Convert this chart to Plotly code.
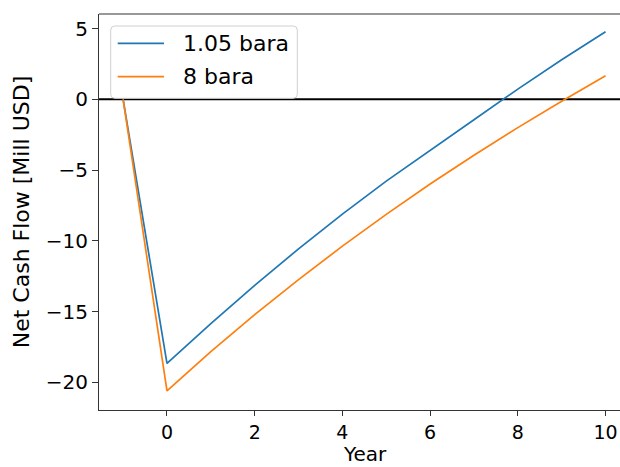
import plotly.graph_objects as go

# Cumulative net cash flow per project year, million USD
years = [-1, 0, 1, 2, 3, 4, 5, 6, 7, 8, 9, 10]
ncf_1_05_bara = [0.0, -18.66, -15.85, -13.15, -10.57, -8.11, -5.78, -3.58, -1.44, 0.72, 2.80, 4.78]
ncf_8_bara = [0.0, -20.60, -17.84, -15.22, -12.74, -10.38, -8.13, -5.99, -3.95, -2.00, -0.13, 1.67]
series_names = ["1.05 bara", "8 bara"]
series_colors = ["#1f77b4", "#ff7f0e"]

x_tick_vals = [0, 2, 4, 6, 8, 10]
y_tick_vals = [-20, -15, -10, -5, 0, 5]
y_tick_text = ["\u221220", "\u221215", "\u221210", "\u22125", "0", "5"]

FONT = "DejaVu Sans"
FS = 20      # tick labels
FS_L = 22    # y title and legend
W, H = 620, 467
M_L, M_R, M_T, M_B = 99, 0, 14, 57
PW = W - M_L - M_R
PH = H - M_T - M_B

fig = go.Figure()

# zero reference line across the full x range
fig.add_hline(y=0, line=dict(color="black", width=2), layer="below")

for name, ys, col in zip(series_names, [ncf_1_05_bara, ncf_8_bara], series_colors):
    fig.add_trace(go.Scatter(x=years, y=ys, mode="lines", name=name,
                             line=dict(color=col, width=1.7), showlegend=False))

# top spine
fig.add_shape(type="line", xref="paper", yref="paper", x0=0, x1=1, y0=1, y1=1,
              line=dict(color="#333333", width=1.2))

# legend box (rounded, pixel-sized, anchored to the plot's top-left corner)
bx0, bx1 = 11.7, 198.3
by0, by1 = -12, -84.3
r = 4
path = (f"M{bx0 + r},{by0} L{bx1 - r},{by0} Q{bx1},{by0} {bx1},{by0 - r} "
        f"L{bx1},{by1 + r} Q{bx1},{by1} {bx1 - r},{by1} "
        f"L{bx0 + r},{by1} Q{bx0},{by1} {bx0},{by1 + r} "
        f"L{bx0},{by0 - r} Q{bx0},{by0} {bx0 + r},{by0} Z")
fig.add_shape(type="path", path=path, xref="paper", yref="paper",
              xsizemode="pixel", ysizemode="pixel", xanchor=0, yanchor=1,
              fillcolor="rgba(255,255,255,0.8)", line=dict(color="#d0d0d0", width=1))

row_y = [-29.3, -62.7]
for name, col, ry in zip(series_names, series_colors, row_y):
    fig.add_shape(type="line", xref="paper", yref="paper",
                  xsizemode="pixel", ysizemode="pixel", xanchor=0, yanchor=1,
                  x0=18.7, x1=65, y0=ry, y1=ry, line=dict(color=col, width=1.7))
    fig.add_annotation(xref="paper", yref="paper", x=82.0 / PW, y=1 + ry / PH,
                       text=name, showarrow=False, xanchor="left", yanchor="middle",
                       font=dict(family=FONT, size=FS_L, color="black"))

# x-axis title, centred on the full axes width (the axes extend slightly past the canvas)
fig.add_annotation(xref="paper", yref="paper", x=(364.5 - M_L) / PW, y=-(467 - (M_T + PH)) / PH,
                   text="Year", showarrow=False, xanchor="center", yanchor="bottom",
                   borderpad=0, font=dict(family=FONT, size=20, color="black"))

fig.update_layout(
    width=W, height=H,
    margin=dict(l=M_L, r=M_R, t=M_T, b=M_B, pad=0),
    paper_bgcolor="white", plot_bgcolor="white",
    font=dict(family=FONT, size=FS, color="black"),
    showlegend=False,
    xaxis=dict(range=[-1.55, 10.33], tickvals=x_tick_vals, ticks="outside", ticklen=5,
               tickwidth=1.2, tickcolor="#333333", showline=True, linecolor="#333333",
               linewidth=1.2, showgrid=False, zeroline=False, tickfont=dict(size=19)),
    yaxis=dict(range=[-21.96, 6.03], tickvals=y_tick_vals, ticktext=y_tick_text,
               ticks="outside", ticklen=6, tickwidth=1.2, tickcolor="#333333",
               showline=True, linecolor="#333333", linewidth=1.2, showgrid=False,
               zeroline=False,
               title=dict(text="Net Cash Flow [Mill USD]", standoff=9, font=dict(size=FS_L))),
)

fig.write_html("out.html")
